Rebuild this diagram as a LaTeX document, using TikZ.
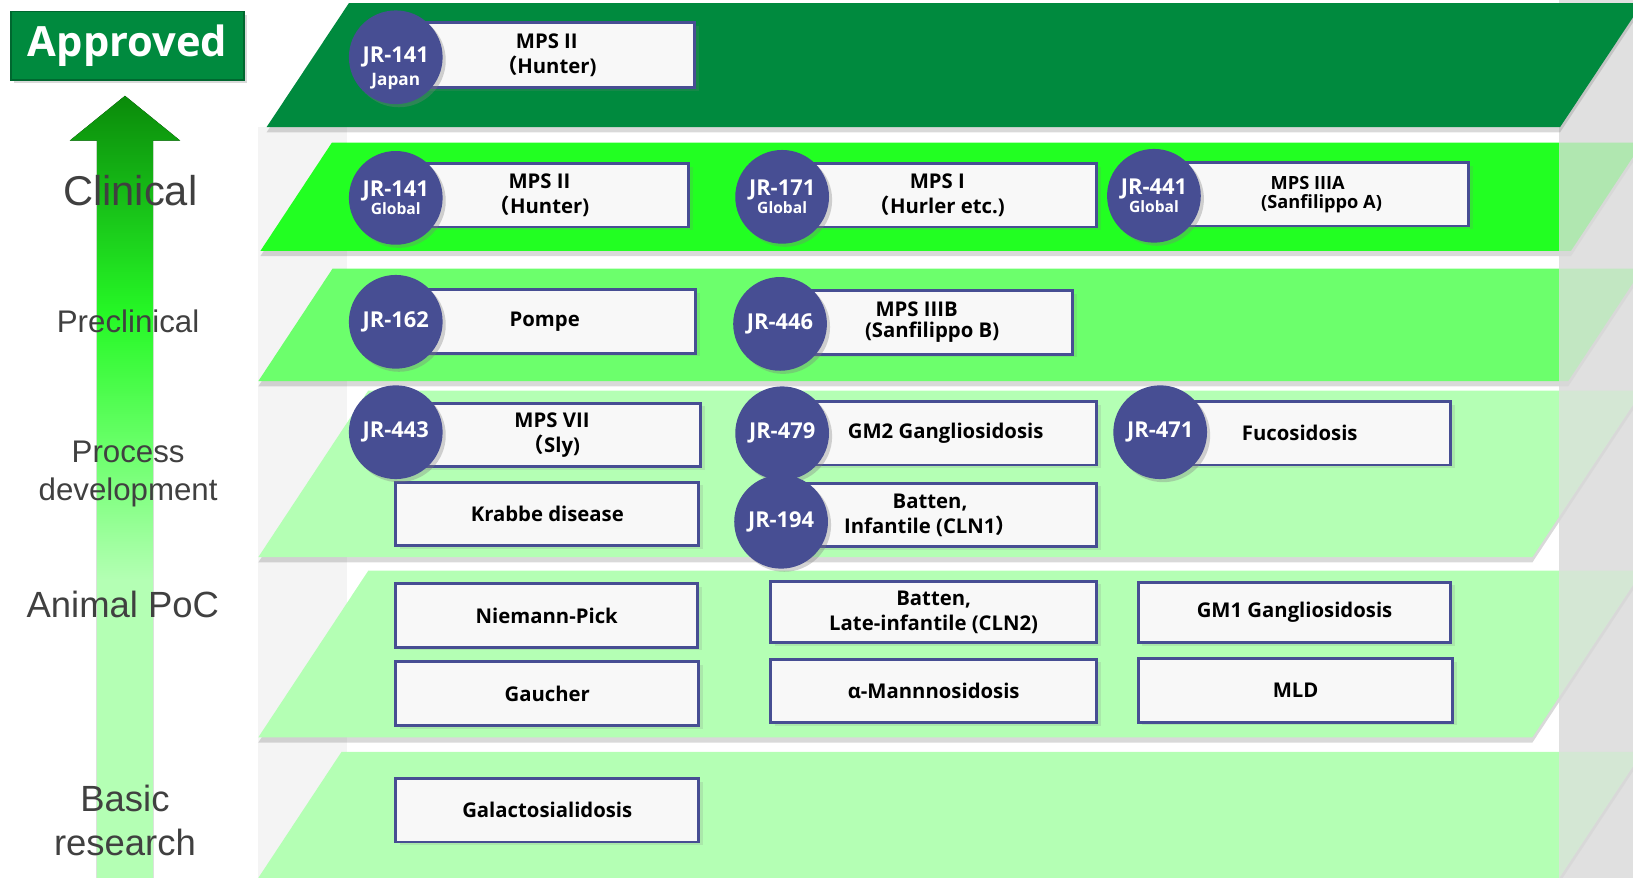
\documentclass[tikz,border=0pt]{standalone}
\usepackage{fontspec}
\setmainfont{Liberation Sans}
\newfontfamily\boxfont{Open Sans}
\newfontfamily\cjk{Noto Sans CJK JP}
\usetikzlibrary{shadows}

% arrow colours are looked up when the shading is used
\pgfdeclareverticalshading[palegreen,midgreen,brightgreen,deepgreen]{stagearrow}{100bp}{%
  color(0bp)=(palegreen); color(25bp)=(palegreen); color(44bp)=(palegreen);
  color(53bp)=(midgreen); color(61bp)=(brightgreen); color(75bp)=(deepgreen);
  color(100bp)=(deepgreen)}

\begin{document}
\begin{tikzpicture}[x=1pt,y=-1pt,
    layer/.style={drop shadow={shadow xshift=0pt,shadow yshift=-5pt,opacity=.3}},
    jrdot/.style={circle,fill=jrblue,minimum size=90pt,inner sep=0pt,text=white,align=center,
      font=\boxfont\bfseries\fontsize{21}{22}\selectfont,
      drop shadow={shadow xshift=3pt,shadow yshift=-3pt,opacity=.35}},
    disbox/.style={draw=jrblue,line width=2.8pt,fill=boxwhite,minimum height=61pt,inner sep=2pt,
      align=center,font=\boxfont\bfseries\fontsize{19.5}{24}\selectfont,
      drop shadow={shadow xshift=4pt,shadow yshift=-3pt,opacity=.18}},
    stagelabel/.style={text=labelgrey,align=center}]
    \definecolor{appgreen}{HTML}{008A3E}
    \definecolor{clingreen}{HTML}{22FF22}
    \definecolor{preclin}{HTML}{6CFF6C}
    \definecolor{palegreen}{HTML}{B4FFB4}
    \definecolor{midgreen}{HTML}{66FF66}
    \definecolor{brightgreen}{HTML}{26F826}
    \definecolor{deepgreen}{HTML}{0A8A0A}
    \definecolor{jrblue}{HTML}{474E93}
    \definecolor{boxwhite}{HTML}{F8F8F8}
    \definecolor{labelgrey}{HTML}{404040}
    \definecolor{wallgrey}{HTML}{E0E0E0}
    \definecolor{backgrey}{HTML}{F4F4F4}
    \path[use as bounding box,clip] (0,0) rectangle (1568,843);
    % walls of the box
    \fill[backgrey] (248,122) rectangle (333,843);
    \fill[wallgrey] (1497,0) rectangle (1568,843);
    % stage layers (clinical to basic research)
    \foreach \yt/\yb/\xl/\col in {137/241/250/clingreen,258/366/248/preclin,
        375/535/248/palegreen,548/708/248/palegreen,722/843/248/palegreen}
      \fill[\col,layer] (\xl,\yb) -- ({\xl+0.66*(\yb-\yt)},\yt) -- (1577,\yt)
        -- ({1577-0.66*(\yb-\yt)},\yb) -- cycle;
    \fill[wallgrey,opacity=.75] (1497,0) rectangle (1568,843);
    % approved layer
    \fill[appgreen,layer] (256,122) -- (335,3) -- (1577,3) -- (1498,122) -- cycle;
    % stage arrow and labels
    \fill[shading=stagearrow] (93,843) -- (93,135) -- (67,135) -- (120,92)
      -- (173,135) -- (147,135) -- (147,843) -- cycle;
    \node[stagelabel,font=\fontsize{40}{44}\selectfont] (clinical) at (125,183) {Clinical};
    \node[stagelabel,font=\fontsize{30}{37}\selectfont] (preclinical) at (123,309) {Preclinical};
    \node[stagelabel,font=\fontsize{30}{37}\selectfont] (process) at (123,455) {Process\\development};
    \node[stagelabel,font=\fontsize{35}{42}\selectfont] (animal) at (118,580) {Animal PoC};
    \node[stagelabel,font=\fontsize{35}{42}\selectfont] (basic) at (120,788) {Basic\\research};
    \node[fill=appgreen,draw=appgreen!75!black,line width=1.5pt,minimum width=224pt,minimum height=66pt,
      text=white,font=\boxfont\bfseries\fontsize{40}{44}\selectfont,
      drop shadow={shadow xshift=3pt,shadow yshift=-3pt,opacity=.3}] (approved) at (122.5,44) {Approved};
    % approved
    \node[disbox,minimum width=284pt,minimum height=62pt] (b141j) at (525,53) {MPS II\\{\cjk （}Hunter)};
    \node[jrdot] (c141j) at (380,55)
      {\raisebox{-17pt}[0pt][0pt]{\begin{tabular}{@{}c@{}}JR-141\\[0pt]{\fontsize{16.5}{18}\selectfont Japan}\end{tabular}}};
    % clinical
    \node[disbox,minimum width=286pt] (b141g) at (518,187.5) {MPS II\\{\cjk （}Hunter)};
    \node[disbox,minimum width=306pt] (b171) at (900,187.5) {MPS I\\{\cjk （}Hurler etc.)};
    \node[disbox,minimum width=282pt,align=left,font=\boxfont\bfseries\fontsize{17.5}{18}\selectfont]
      (b441) at (1269,186.5) {\ \ MPS IIIA\\(Sanfilippo A)};
    \node[jrdot] (c141g) at (380,190) {JR-141\\[-4pt]{\fontsize{15}{18}\selectfont Global}};
    \node[jrdot] (c171) at (751,189) {JR-171\\[-4pt]{\fontsize{15}{18}\selectfont Global}};
    \node[jrdot] (c441) at (1108,188) {JR-441\\[-4pt]{\fontsize{15}{18}\selectfont Global}};
    % preclinical
    \node[disbox,minimum width=290pt] (b162) at (523,308.5) {Pompe};
    \node[disbox,minimum width=270pt,align=left,font=\boxfont\bfseries\fontsize{19.5}{20}\selectfont]
      (b446) at (895,309.5) {\ \ MPS IIIB\\(Sanfilippo B)};
    \node[jrdot] (c162) at (380,309) {JR-162};
    \node[jrdot] (c446) at (749,311) {JR-446};
    % process development
    \node[disbox,minimum width=286pt] (b443) at (530,417.5) {MPS VII\\{\cjk （}Sly)};
    \node[disbox,minimum width=290pt] (b479) at (908,416) {GM2 Gangliosidosis};
    \node[disbox,minimum width=290pt] (b471) at (1248,416) {Fucosidosis};
    \node[disbox,minimum width=291pt] (krabbe) at (525.5,493.5) {Krabbe disease};
    \node[disbox,minimum width=320pt] (b194) at (893,494.5) {Batten,\\Infantile (CLN1{\cjk ）}};
    \node[jrdot] (c443) at (380,415) {JR-443};
    \node[jrdot] (c479) at (751,416) {JR-479};
    \node[jrdot] (c471) at (1114,415) {JR-471};
    \node[jrdot] (c194) at (750,501) {JR-194};
    % animal PoC
    \node[disbox,minimum width=290pt] (niemann) at (525,591) {Niemann-Pick};
    \node[disbox,minimum width=313pt,minimum height=59pt] (cln2) at (896.5,587.5) {Batten,\\Late-infantile (CLN2)};
    \node[disbox,minimum width=300pt,minimum height=58pt] (gm1) at (1243,588) {GM1 Gangliosidosis};
    \node[disbox,minimum width=291pt] (gaucher) at (525.5,666) {Gaucher};
    \node[disbox,minimum width=313pt] (manno) at (896.5,663.5) {α-Mannnosidosis};
    \node[disbox,minimum width=302pt] (mld) at (1244,663) {MLD};
    % basic research
    \node[disbox,minimum width=291pt] (galacto) at (525.5,778) {Galactosialidosis};
  \end{tikzpicture}
\end{document}
